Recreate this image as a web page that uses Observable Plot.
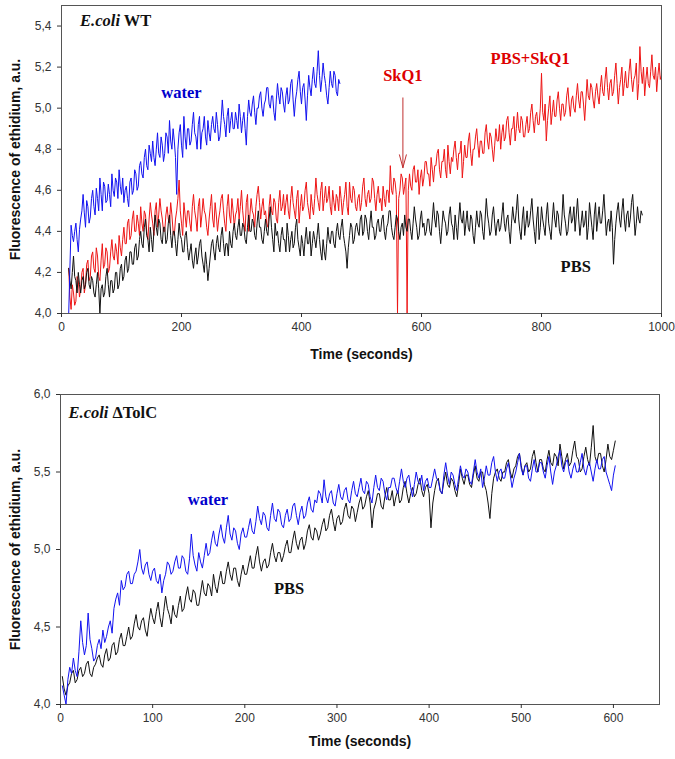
<!DOCTYPE html>
<html><head><meta charset="utf-8">
<script src="https://cdn.jsdelivr.net/npm/d3@7"></script>
<script src="https://cdn.jsdelivr.net/npm/@observablehq/plot@0.6"></script>
<style>
body{margin:0;background:#fff;}
#chart svg{display:block;}
</style></head><body><div id="chart"></div>
<script>
// ---------- Panel 1: E.coli WT (sampling every 2 s) ----------
const wtStep = 2;
const wtWaterStart = 12;
const wtWater = [
4.00,4.22,4.43,4.38,4.35,4.40,4.44,4.36,4.30,4.41,4.46,4.50,4.58,4.49,4.42,4.55,4.52,4.44,4.47,4.56,
4.60,4.52,4.48,4.61,4.56,4.50,4.66,4.58,4.50,4.64,4.62,4.54,4.55,4.63,4.58,4.52,4.68,4.60,4.57,4.66,
4.64,4.56,4.70,4.62,4.58,4.66,4.54,4.60,4.62,4.56,4.52,4.64,4.66,4.58,4.60,4.70,4.68,4.60,4.62,4.72,
4.74,4.68,4.66,4.76,4.80,4.72,4.70,4.82,4.78,4.74,4.84,4.76,4.72,4.80,4.88,4.78,4.76,4.86,4.82,4.74,
4.78,4.88,4.86,4.78,4.94,4.84,4.80,4.90,4.84,4.76,4.58,4.80,4.88,4.92,4.82,4.76,4.96,4.86,4.80,4.90,
4.90,4.82,4.84,4.92,4.98,4.88,4.86,4.80,4.92,4.96,4.80,4.88,4.90,4.96,4.86,4.82,4.94,4.88,4.84,4.92,
4.96,4.90,4.88,4.98,4.92,4.84,4.86,4.94,5.04,4.96,4.92,4.86,4.96,5.00,4.88,4.94,4.98,4.90,4.90,4.98,
4.94,4.90,5.02,4.96,4.88,4.94,4.98,4.90,4.82,4.96,5.04,4.98,4.96,5.02,5.06,4.98,4.92,5.00,5.00,5.06,
5.08,5.00,4.96,5.02,5.04,5.10,5.10,5.02,5.00,5.06,5.06,4.98,4.94,5.04,5.12,5.06,5.02,5.10,5.08,5.02,
4.98,5.06,5.10,5.02,5.04,5.12,5.14,5.04,4.96,5.04,5.08,5.14,5.18,5.08,5.02,5.10,5.12,5.04,4.94,5.06,
5.16,5.10,5.06,5.14,5.20,5.12,5.10,5.18,5.28,5.16,5.08,5.14,5.22,5.16,5.12,5.06,5.02,5.10,5.18,5.12,
5.10,5.18,5.16,5.08,5.06,5.14,5.12];
const wtSkq1Start = 12;
const wtSkq1 = [
4.22,4.08,4.02,4.14,4.10,4.04,4.06,4.18,4.16,4.08,4.12,4.20,4.22,4.10,4.14,4.24,4.26,4.16,4.18,4.28,
4.30,4.22,4.20,4.32,4.28,4.18,4.16,4.26,4.34,4.22,4.24,4.32,4.30,4.20,4.22,4.30,4.36,4.28,4.26,4.34,
4.30,4.24,4.38,4.32,4.28,4.36,4.42,4.34,4.34,4.44,4.46,4.36,4.38,4.46,4.50,4.40,4.40,4.48,4.44,4.38,
4.52,4.44,4.40,4.50,4.48,4.40,4.36,4.46,4.54,4.48,4.44,4.38,4.50,4.54,4.42,4.48,4.56,4.50,4.46,4.40,
4.40,4.48,4.52,4.46,4.44,4.54,4.48,4.40,4.38,4.46,4.50,4.56,4.65,4.50,4.44,4.38,4.54,4.48,4.42,4.50,
4.50,4.44,4.40,4.52,4.58,4.50,4.46,4.40,4.52,4.56,4.42,4.48,4.56,4.50,4.48,4.42,4.38,4.46,4.52,4.58,
4.46,4.42,4.54,4.48,4.40,4.46,4.50,4.56,4.58,4.50,4.44,4.40,4.52,4.58,4.48,4.44,4.56,4.50,4.42,4.48,
4.50,4.56,4.46,4.52,4.60,4.50,4.44,4.40,4.54,4.58,4.40,4.48,4.56,4.50,4.48,4.42,4.52,4.58,4.62,4.54,
4.46,4.52,4.56,4.48,4.50,4.44,4.42,4.52,4.58,4.50,4.48,4.56,4.54,4.46,4.44,4.54,4.60,4.50,4.52,4.58,
4.48,4.54,4.58,4.50,4.46,4.56,4.62,4.54,4.50,4.46,4.56,4.60,4.44,4.52,4.58,4.50,4.52,4.60,4.64,4.54,
4.50,4.46,4.58,4.52,4.48,4.56,4.66,4.58,4.54,4.50,4.60,4.64,4.50,4.56,4.62,4.54,4.56,4.62,4.52,4.48,
4.60,4.54,4.50,4.58,4.56,4.50,4.62,4.56,4.48,4.54,4.58,4.64,4.52,4.48,4.64,4.56,4.54,4.62,4.60,4.52,
4.50,4.56,4.58,4.50,4.54,4.62,4.66,4.56,4.52,4.58,4.60,4.54,4.56,4.66,4.64,4.56,4.50,4.58,4.62,4.54,
4.56,4.50,4.62,4.56,4.52,4.60,4.60,4.54,4.72,4.60,4.58,4.66,4.64,4.58,4.00,4.56,4.60,4.68,4.66,4.58,
4.62,4.66,4.00,4.60,4.68,4.62,4.60,4.70,4.72,4.64,4.64,4.70,4.58,4.66,4.70,4.62,4.66,4.74,4.74,4.68,
4.68,4.62,4.76,4.70,4.64,4.72,4.72,4.78,4.80,4.70,4.66,4.74,4.74,4.80,4.70,4.66,4.82,4.74,4.68,4.76,
4.74,4.80,4.84,4.76,4.70,4.78,4.78,4.84,4.66,4.74,4.82,4.76,4.76,4.84,4.88,4.78,4.72,4.80,4.80,4.86,
4.90,4.82,4.76,4.84,4.84,4.78,4.78,4.88,4.92,4.84,4.80,4.88,4.86,4.80,4.74,4.82,4.90,4.84,4.84,4.92,
4.80,4.88,4.92,4.84,4.86,4.94,4.96,4.88,4.82,4.90,4.90,4.96,4.84,4.90,4.98,4.90,4.88,4.96,4.94,4.86,
4.86,4.92,4.96,4.88,4.90,4.98,5.02,4.94,4.88,4.96,4.98,4.92,4.92,5.00,5.17,4.98,4.94,5.02,4.84,4.94,
5.00,5.06,4.92,4.98,5.04,4.96,4.96,5.04,5.08,5.00,4.94,5.02,5.02,4.96,4.98,5.06,5.10,5.02,4.96,5.04,
5.06,5.00,4.98,5.06,5.12,5.04,5.00,5.08,5.08,5.02,4.94,5.04,5.14,5.06,5.04,5.12,5.10,5.04,5.00,5.08,
5.12,5.06,5.02,5.10,5.16,5.08,5.06,5.14,5.20,5.10,5.04,5.12,5.14,5.06,5.08,5.16,5.22,5.12,5.02,5.10,
5.14,5.20,5.06,5.12,5.18,5.10,5.10,5.18,5.24,5.14,5.08,5.14,5.16,5.22,5.04,5.12,5.30,5.18,5.12,5.20,
5.06,5.14,5.20,5.12,5.10,5.18,5.26,5.16,5.14,5.20,5.08,5.16,5.22,5.14,5.16];
const wtPbsStart = 12;
const wtPbs = [
4.22,4.16,4.12,4.20,4.28,4.18,4.16,4.10,4.20,4.14,4.10,4.16,4.18,4.12,4.14,4.20,4.22,4.14,4.12,4.18,
4.16,4.10,4.08,4.14,4.20,4.12,4.00,4.12,4.14,4.08,4.10,4.18,4.22,4.14,4.08,4.16,4.16,4.10,4.12,4.20,
4.20,4.12,4.14,4.22,4.24,4.16,4.18,4.26,4.28,4.20,4.22,4.30,4.30,4.24,4.24,4.32,4.34,4.26,4.28,4.36,
4.40,4.34,4.32,4.42,4.46,4.38,4.36,4.30,4.42,4.36,4.30,4.40,4.48,4.42,4.38,4.46,4.44,4.36,4.34,4.42,
4.42,4.34,4.36,4.44,4.48,4.38,4.32,4.40,4.40,4.34,4.28,4.36,4.44,4.38,4.36,4.30,4.30,4.38,4.40,4.32,
4.26,4.30,4.34,4.26,4.22,4.28,4.32,4.24,4.28,4.34,4.36,4.28,4.24,4.20,4.30,4.24,4.16,4.22,4.28,4.34,
4.36,4.30,4.26,4.34,4.38,4.32,4.30,4.38,4.42,4.34,4.28,4.34,4.34,4.28,4.40,4.34,4.32,4.40,4.44,4.38,
4.36,4.42,4.46,4.38,4.38,4.44,4.42,4.36,4.34,4.42,4.48,4.40,4.40,4.46,4.44,4.38,4.36,4.44,4.50,4.42,
4.42,4.36,4.34,4.40,4.46,4.40,4.38,4.46,4.52,4.42,4.36,4.30,4.44,4.38,4.40,4.34,4.30,4.38,4.42,4.36,
4.36,4.30,4.44,4.38,4.30,4.36,4.40,4.32,4.34,4.42,4.46,4.36,4.32,4.28,4.38,4.34,4.28,4.36,4.42,4.34,
4.34,4.40,4.28,4.34,4.40,4.36,4.32,4.38,4.44,4.36,4.30,4.26,4.36,4.30,4.26,4.34,4.42,4.36,4.34,4.40,
4.40,4.34,4.32,4.40,4.44,4.38,4.36,4.42,4.46,4.38,4.34,4.30,4.22,4.32,4.38,4.44,4.42,4.34,4.36,4.42,
4.44,4.40,4.38,4.46,4.48,4.38,4.40,4.48,4.46,4.40,4.36,4.44,4.50,4.42,4.42,4.36,4.38,4.44,4.46,4.40,
4.40,4.46,4.48,4.40,4.36,4.42,4.44,4.50,4.50,4.42,4.38,4.36,4.42,4.48,4.46,4.40,4.36,4.42,4.44,4.38,
4.48,4.42,4.40,4.46,4.46,4.40,4.36,4.44,4.52,4.46,4.42,4.36,4.38,4.46,4.50,4.42,4.44,4.38,4.40,4.46,
4.46,4.40,4.38,4.46,4.54,4.46,4.42,4.50,4.48,4.40,4.34,4.42,4.50,4.46,4.44,4.38,4.40,4.48,4.52,4.44,
4.42,4.36,4.48,4.42,4.36,4.46,4.54,4.46,4.44,4.50,4.38,4.44,4.50,4.42,4.40,4.48,4.46,4.38,4.34,4.42,
4.50,4.44,4.42,4.50,4.48,4.40,4.36,4.46,4.56,4.48,4.44,4.38,4.40,4.48,4.52,4.44,4.38,4.44,4.46,4.40,
4.42,4.48,4.54,4.44,4.40,4.46,4.48,4.40,4.34,4.44,4.52,4.46,4.44,4.50,4.58,4.46,4.40,4.36,4.46,4.52,
4.38,4.44,4.50,4.42,4.44,4.50,4.56,4.46,4.40,4.34,4.46,4.52,4.36,4.42,4.52,4.46,4.42,4.38,4.48,4.54,
4.44,4.40,4.36,4.46,4.54,4.46,4.42,4.50,4.48,4.40,4.38,4.46,4.58,4.48,4.44,4.38,4.40,4.48,4.52,4.44,
4.46,4.52,4.40,4.48,4.56,4.46,4.38,4.44,4.50,4.42,4.44,4.50,4.36,4.42,4.54,4.48,4.42,4.36,4.48,4.54,
4.40,4.46,4.52,4.44,4.44,4.50,4.58,4.48,4.38,4.44,4.46,4.40,4.50,4.42,4.24,4.36,4.44,4.50,4.54,4.46,
4.42,4.50,4.56,4.46,4.40,4.48,4.50,4.42,4.46,4.54,4.58,4.48,4.38,4.44,4.52,4.46,4.44,4.50,4.48];
const wtXTicks = [0, 200, 400, 600, 800, 1000];
const wtYTicks = [4.0, 4.2, 4.4, 4.6, 4.8, 5.0, 5.2, 5.4];

// ---------- Panel 2: E.coli ΔTolC (sampling every 2 s) ----------
const tolcStep = 2;
const tolcStart = 2;
const tolcWater = [
4.12,4.06,4.00,4.16,4.24,4.20,4.30,4.22,4.18,4.34,4.54,4.40,4.32,4.38,4.59,4.42,4.36,4.28,4.30,4.38,
4.42,4.36,4.48,4.40,4.44,4.50,4.54,4.46,4.62,4.68,4.72,4.64,4.80,4.74,4.76,4.84,4.86,4.78,4.78,4.84,
4.86,4.92,5.00,4.88,4.84,4.90,4.92,4.84,4.80,4.86,4.88,4.80,4.78,4.84,4.72,4.80,4.84,4.92,4.90,4.84,
4.86,4.92,4.96,4.88,4.88,4.96,4.94,4.86,4.84,4.94,5.10,4.96,4.90,4.86,4.98,4.92,4.88,4.96,5.04,4.96,
4.98,5.06,5.12,5.04,5.02,5.10,5.16,5.08,5.04,5.14,5.22,5.10,5.06,5.14,5.12,5.04,5.00,5.10,5.14,5.08,
5.08,5.14,5.20,5.12,5.10,5.18,5.28,5.20,5.16,5.24,5.22,5.14,5.12,5.22,5.30,5.20,5.18,5.26,5.24,5.16,
5.14,5.22,5.26,5.18,5.20,5.28,5.30,5.22,5.16,5.24,5.28,5.20,5.22,5.30,5.34,5.26,5.24,5.32,5.30,5.38,
5.36,5.30,5.45,5.34,5.30,5.36,5.38,5.30,5.28,5.36,5.42,5.34,5.32,5.38,5.40,5.32,5.30,5.38,5.44,5.36,
5.34,5.40,5.46,5.38,5.36,5.44,5.42,5.34,5.30,5.40,5.48,5.40,5.38,5.46,5.44,5.36,5.32,5.40,5.40,5.46,
5.46,5.40,5.36,5.44,5.52,5.44,5.40,5.46,5.48,5.40,5.34,5.42,5.50,5.44,5.42,5.48,5.38,5.44,5.46,5.40,
5.40,5.46,5.52,5.46,5.44,5.38,5.36,5.48,5.56,5.48,5.42,5.50,5.48,5.42,5.38,5.46,5.54,5.48,5.46,5.52,
5.50,5.44,5.42,5.50,5.58,5.50,5.46,5.52,5.40,5.46,5.54,5.48,5.48,5.56,5.60,5.50,5.44,5.50,5.52,5.46,
5.46,5.52,5.56,5.48,5.40,5.46,5.50,5.56,5.62,5.52,5.48,5.54,5.54,5.46,5.44,5.52,5.58,5.50,5.50,5.56,
5.56,5.50,5.46,5.54,5.60,5.50,5.42,5.50,5.54,5.60,5.64,5.54,5.50,5.56,5.58,5.50,5.46,5.52,5.56,5.50,
5.50,5.56,5.62,5.52,5.48,5.54,5.56,5.50,5.44,5.52,5.58,5.52,5.52,5.58,5.60,5.50,5.46,5.42,5.38,5.48,
5.54];
const tolcPbs = [
4.18,4.10,4.06,4.12,4.14,4.20,4.22,4.14,4.16,4.22,4.24,4.18,4.20,4.26,4.28,4.20,4.18,4.24,4.26,4.30,
4.32,4.26,4.24,4.32,4.36,4.28,4.30,4.38,4.40,4.32,4.34,4.42,4.46,4.38,4.38,4.44,4.50,4.42,4.44,4.52,
4.58,4.50,4.48,4.54,4.56,4.48,4.44,4.54,4.62,4.56,4.52,4.60,4.66,4.56,4.50,4.60,4.70,4.62,4.58,4.52,
4.64,4.58,4.56,4.64,4.70,4.60,4.62,4.70,4.76,4.68,4.66,4.74,4.72,4.64,4.64,4.72,4.80,4.72,4.70,4.78,
4.76,4.70,4.84,4.76,4.72,4.80,4.86,4.78,4.78,4.86,4.92,4.84,4.80,4.88,4.88,4.80,4.76,4.84,4.90,4.84,
4.84,4.90,4.96,4.88,4.88,4.96,5.02,4.92,4.86,4.92,4.94,4.88,4.90,4.98,5.04,4.96,4.92,4.98,4.98,4.92,
4.96,5.02,5.06,4.98,4.98,5.06,5.12,5.04,5.00,5.06,5.08,5.00,5.04,5.12,5.16,5.08,5.06,5.14,5.12,5.06,
5.10,5.16,5.20,5.12,5.14,5.22,5.26,5.18,5.12,5.20,5.22,5.16,5.18,5.26,5.30,5.22,5.20,5.28,5.26,5.18,
5.24,5.30,5.34,5.26,5.28,5.34,5.38,5.30,5.14,5.26,5.30,5.36,5.36,5.28,5.26,5.34,5.40,5.32,5.32,5.38,
5.28,5.34,5.38,5.30,5.32,5.40,5.44,5.36,5.30,5.36,5.40,5.34,5.36,5.42,5.46,5.38,5.34,5.40,5.42,5.36,
5.14,5.30,5.38,5.44,5.46,5.38,5.36,5.44,5.50,5.42,5.40,5.46,5.44,5.38,5.34,5.42,5.52,5.46,5.42,5.48,
5.48,5.42,5.40,5.48,5.54,5.46,5.44,5.50,5.50,5.42,5.38,5.30,5.20,5.36,5.46,5.50,5.52,5.46,5.44,5.50,
5.50,5.56,5.58,5.50,5.46,5.52,5.54,5.60,5.62,5.54,5.48,5.54,5.56,5.50,5.52,5.60,5.64,5.56,5.50,5.58,
5.58,5.52,5.50,5.58,5.64,5.56,5.54,5.62,5.60,5.54,5.68,5.60,5.52,5.58,5.62,5.54,5.56,5.64,5.70,5.60,
5.58,5.50,5.52,5.60,5.66,5.58,5.54,5.66,5.80,5.60,5.56,5.62,5.62,5.54,5.50,5.58,5.68,5.60,5.58,5.64,
5.70];
const tolcXTicks = [0, 100, 200, 300, 400, 500, 600];
const tolcYTicks = [4.0, 4.5, 5.0, 5.5, 6.0];

// ---------- helpers ----------
const toRows = (vals, start, step) => vals.map((v, i) => ({t: start + i * step, v}));
const fmt = d => d.toFixed(1).replace(".", ",");
const sans = "Arial, 'Liberation Sans', sans-serif";
const serif = "'Times New Roman', 'Liberation Serif', serif";
const cRed = "#ee1515", cBlue = "#1212f0", cBlack = "#111111";

function italicize(svg, full, italicPart) {
  svg.querySelectorAll("text").forEach(t => {
    if (t.textContent === full) {
      const rest = full.slice(italicPart.length);
      while (t.firstChild) t.removeChild(t.firstChild);
      const ns = "http://www.w3.org/2000/svg";
      const a = document.createElementNS(ns, "tspan");
      a.setAttribute("font-style", "italic");
      a.textContent = italicPart;
      const b = document.createElementNS(ns, "tspan");
      b.textContent = rest;
      t.appendChild(a); t.appendChild(b);
    }
  });
}

const common = (dyTime, dxY) => [
  Plot.text(["Time (seconds)"], {text: d => d, frameAnchor: "bottom", dy: dyTime, fontWeight: "bold", fontSize: 14, fill: "#111"}),
  Plot.text(["Fluorescence of ethidium, a.u."], {text: d => d, frameAnchor: "left", textAnchor: "middle", dx: dxY, rotate: -90, fontWeight: "bold", fontSize: 14, fill: "#111"})
];

const topChart = Plot.plot({
  width: 675, height: 375,
  marginLeft: 61, marginRight: 14, marginTop: 5, marginBottom: 62,
  style: {fontFamily: sans, fontSize: "12px", color: "#333", background: "#fff"},
  x: {domain: [0, 1000]},
  y: {domain: [4, 5.5]},
  marks: [
    Plot.line(toRows(wtSkq1, wtSkq1Start, wtStep), {x: "t", y: "v", stroke: cRed, strokeWidth: 1, clip: true}),
    Plot.line(toRows(wtPbs, wtPbsStart, wtStep), {x: "t", y: "v", stroke: cBlack, strokeWidth: 1, clip: true}),
    Plot.line(toRows(wtWater, wtWaterStart, wtStep), {x: "t", y: "v", stroke: cBlue, strokeWidth: 1, clip: true}),
    Plot.frame({stroke: "#555"}),
    Plot.axisX({ticks: wtXTicks, tickSize: 4, tickPadding: 5, label: null, tickFormat: d => String(d)}),
    Plot.axisY({ticks: wtYTicks, tickSize: 4, tickPadding: 6, tickFormat: fmt, label: null}),
    ...common(45, -46),
    Plot.text(["E.coli WT"], {text: d => d, x: 31, y: 5.424, textAnchor: "start", fontFamily: serif, fontWeight: "bold", fontSize: 16.5, fill: "#111"}),
    Plot.text(["water"], {text: d => d, x: 200, y: 5.077, fontFamily: serif, fontWeight: "bold", fontSize: 16.5, fill: "#0000cc"}),
    Plot.text(["SkQ1"], {text: d => d, x: 569, y: 5.157, fontFamily: serif, fontWeight: "bold", fontSize: 16.5, fill: "#dd0000"}),
    Plot.text(["PBS+SkQ1"], {text: d => d, x: 781, y: 5.242, fontFamily: serif, fontWeight: "bold", fontSize: 16.5, fill: "#dd0000"}),
    Plot.text(["PBS"], {text: d => d, x: 857, y: 4.228, fontFamily: serif, fontWeight: "bold", fontSize: 16.5, fill: "#111"}),
    Plot.arrow([0], {x1: 569, x2: 569, y1: 5.05, y2: 4.71, stroke: "#c03030", strokeWidth: 1, headLength: 20, headAngle: 30})
  ]
});
italicize(topChart, "E.coli WT", "E.coli");

const bottomChart = Plot.plot({
  width: 675, height: 384,
  marginLeft: 60, marginRight: 16, marginTop: 19, marginBottom: 55,
  style: {fontFamily: sans, fontSize: "12px", color: "#333", background: "#fff"},
  x: {domain: [0, 650]},
  y: {domain: [4, 6]},
  marks: [
    Plot.line(toRows(tolcPbs, tolcStart, tolcStep), {x: "t", y: "v", stroke: cBlack, strokeWidth: 1, clip: true}),
    Plot.line(toRows(tolcWater, tolcStart, tolcStep), {x: "t", y: "v", stroke: cBlue, strokeWidth: 1, clip: true}),
    Plot.frame({stroke: "#555"}),
    Plot.axisX({ticks: tolcXTicks, tickSize: 4, tickPadding: 5, label: null, tickFormat: d => String(d)}),
    Plot.axisY({ticks: tolcYTicks, tickSize: 4, tickPadding: 6, tickFormat: fmt, label: null}),
    ...common(41.5, -45),
    Plot.text(["E.coli \u0394TolC"], {text: d => d, x: 8.7, y: 5.884, textAnchor: "start", fontFamily: serif, fontWeight: "bold", fontSize: 16.5, fill: "#111"}),
    Plot.text(["water"], {text: d => d, x: 160, y: 5.323, fontFamily: serif, fontWeight: "bold", fontSize: 16.5, fill: "#0000cc"}),
    Plot.text(["PBS"], {text: d => d, x: 248, y: 4.748, fontFamily: serif, fontWeight: "bold", fontSize: 16.5, fill: "#111"})
  ]
});
italicize(bottomChart, "E.coli \u0394TolC", "E.coli");

const root = document.getElementById("chart");
root.appendChild(topChart);
root.appendChild(bottomChart);
</script>
</body></html>
